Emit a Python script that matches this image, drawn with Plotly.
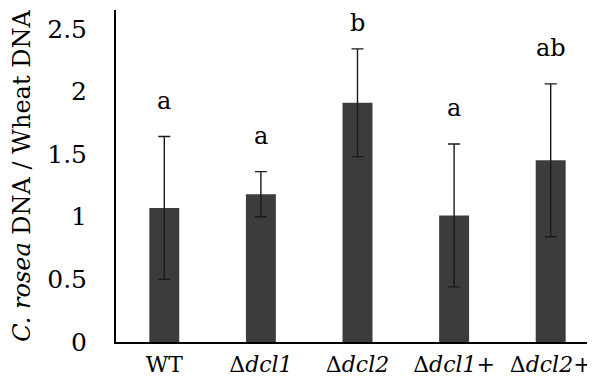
import plotly.graph_objects as go

categories = ["WT", "Δ<i>dcl1</i>", "Δ<i>dcl2</i>", "Δ<i>dcl1</i>+", "Δ<i>dcl2</i>+"]
means = [1.07, 1.18, 1.91, 1.01, 1.45]
errors = [0.57, 0.18, 0.43, 0.57, 0.61]
letters = ["a", "a", "b", "a", "ab"]
y_ticks = [0, 0.5, 1, 1.5, 2, 2.5]
y_tick_text = ["0", "0.5", "1", "1.5", "2", "2.5"]

letter_shift = [20, 20, 10, 20, 20]

FONT = "DejaVu Serif"

fig = go.Figure()
fig.add_trace(go.Bar(
    x=categories, y=means,
    marker=dict(color="#3c3c3c", line=dict(width=0)),
    error_y=dict(type="data", array=errors, visible=True,
                 color="#1a1a1a", thickness=1.4, width=6),
    width=0.31,
))

for c, m, e, t, s in zip(categories, means, errors, letters, letter_shift):
    fig.add_annotation(x=c, y=m + e, text=t, showarrow=False,
                       yanchor="bottom", yshift=s,
                       font=dict(family=FONT, size=24, color="black"))

fig.update_layout(
    width=595, height=377,
    margin=dict(l=108, r=4, t=2, b=43),
    paper_bgcolor="white", plot_bgcolor="white",
    showlegend=False,
    font=dict(family=FONT, color="black"),
)
fig.update_xaxes(
    showline=True, linecolor="black", linewidth=2,
    ticks="", ticklabelstandoff=2, tickangle=0, automargin=False,
    tickfont=dict(family=FONT, size=22, color="black"),
    showgrid=False,
)
fig.update_yaxes(
    range=[0, 2.65], showline=True, linecolor="black", linewidth=2,
    tickvals=y_ticks, ticktext=y_tick_text, ticks="",
    ticklabelstandoff=22, automargin=False,
    tickfont=dict(family=FONT, size=25, color="black"),
    showgrid=False, zeroline=False,
    title=dict(text="<i>C. rosea</i> DNA / Wheat DNA",
               font=dict(family=FONT, size=24, color="black"), standoff=16),
)

fig.write_html("out.html")
